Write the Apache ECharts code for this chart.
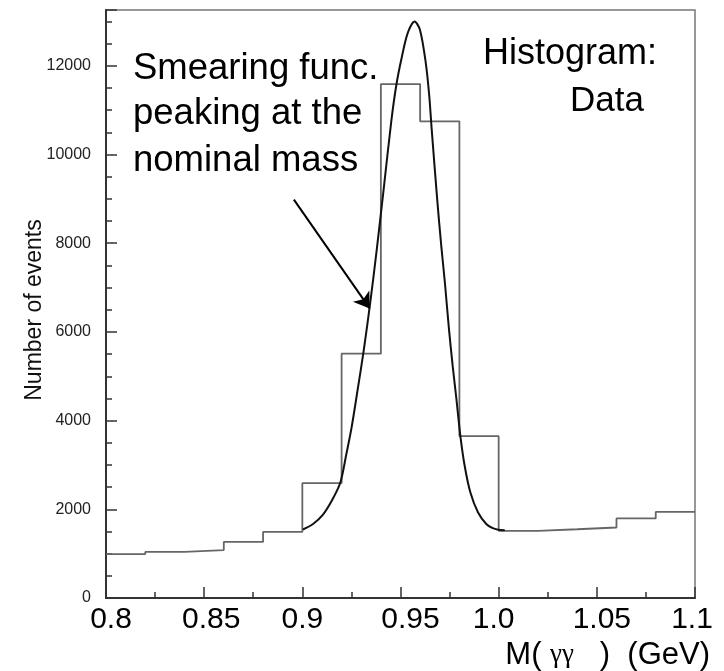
<!DOCTYPE html>
<html>
<head>
<meta charset="utf-8">
<script src="https://cdn.jsdelivr.net/npm/echarts@6/dist/echarts.min.js"></script>
<style>
html,body{margin:0;padding:0;background:#fff;}
#chart{width:724px;height:671px;}
</style>
</head>
<body>
<div id="chart"></div>
<script>
// Histogram bins (left edges, width 0.02 GeV) and counts
var binEdges = [0.80, 0.82, 0.84, 0.86, 0.88, 0.90, 0.92, 0.94, 0.96, 0.98, 1.00, 1.02, 1.04, 1.06, 1.08];
var binEnd = 1.10;
var counts = [990, 1040, 1080, 1265, 1490, 2590, 5510, 11590, 10750, 3650, 1515, 1550, 1590, 1795, 1940];

// Smearing function
var curveX = [0.9003, 0.9053, 0.9103, 0.9154, 0.9194, 0.9224, 0.9251, 0.9282, 0.9312, 0.9346, 0.9379, 0.9414, 0.9453, 0.9479, 0.9506, 0.9537, 0.9572,
              0.9599, 0.9628, 0.9646, 0.9659, 0.9687, 0.9707, 0.9726, 0.9747, 0.9766, 0.9785, 0.9805, 0.9827, 0.9856, 0.9895, 0.9938, 0.9970, 0.9997, 1.0031];
var curveY = [1545, 1664, 1867, 2227, 2610, 3241, 3849, 4705, 5561, 6664, 7858, 9209, 10748, 11574, 12182, 12745, 13000,
              12813, 12092, 11349, 10561, 8984, 7971, 7115, 6056, 5223, 4480, 3653, 2977, 2378, 1928, 1664, 1574, 1541, 1529];

// Axis settings
var xMin = 0.8, xMax = 1.1, xStep = 0.05;
var yMin = 0, yMax = 13260, yMajor = 2000, yMinor = 500;

// Annotation arrow (data coordinates)
var arrowStart = [0.8957, 8984];
var arrowEnd = [0.9343, 6530];

var histData = binEdges.map(function (x, i) { return [x, counts[i]]; });
histData.push([binEnd, counts[counts.length - 1]]);
var curveData = curveX.map(function (x, i) { return [x, curveY[i]]; });

var FONT = '"Liberation Sans", Arial, Helvetica, sans-serif';

// small horizontal nudges of the x tick labels as placed in the original figure
var xLabelNudge = [5, 7, 0, 10, -5, 5, -3];
var xRich = {};
xLabelNudge.forEach(function (o, i) {
  xRich['s' + i] = {fontSize: 30, fontFamily: FONT, color: '#000', padding: [0, Math.max(0, -2 * o), 0, Math.max(0, 2 * o)]};
});

var chart = echarts.init(document.getElementById('chart'), null, {renderer: 'canvas'});
chart.setOption({
  animation: false,
  backgroundColor: '#fff',
  grid: {left: 106, right: 29, top: 10, bottom: 73, show: true, borderColor: '#777', borderWidth: 1.5, backgroundColor: 'transparent'},
  xAxis: {
    type: 'value', min: xMin, max: xMax, interval: xStep,
    axisLine: {lineStyle: {color: '#333', width: 2}},
    axisTick: {inside: true, length: 11, lineStyle: {color: '#333', width: 1.5}},
    minorTick: {show: true, splitNumber: 2, length: 6, lineStyle: {color: '#333', width: 1.5}},
    splitLine: {show: false},
    axisLabel: {
      margin: 7, fontSize: 30, fontFamily: FONT, color: '#000', rich: xRich,
      formatter: function (v) {
        var s = String(+v.toFixed(2)); if (s.indexOf('.') < 0) s += '.0';
        var i = Math.round((v - xMin) / xStep);
        return '{s' + i + '|' + s + '}';
      }
    },
    name: '{a|M( }{g|γγ}{a|   )  (GeV)}',
    nameLocation: 'end', nameGap: 15,
    nameTextStyle: {
      align: 'right', verticalAlign: 'middle', padding: [114, 0, 0, 0],
      rich: {
        a: {fontSize: 31, fontFamily: FONT, color: '#000'},
        g: {fontSize: 27, fontFamily: '"Liberation Serif", "Times New Roman", serif', color: '#000'}
      }
    }
  },
  yAxis: [{
    type: 'value', min: yMin, max: yMax, interval: yMajor,
    axisLine: {show: true, lineStyle: {color: '#333', width: 2}},
    axisTick: {inside: true, length: 11, lineStyle: {color: '#333', width: 1.5}},
    splitLine: {show: false},
    axisLabel: {
      margin: 15, fontSize: 16, fontFamily: FONT, color: '#222',
      formatter: function (v) { return (v % yMajor === 0) ? String(v) : ''; }
    },
    name: 'Number of events', nameLocation: 'middle', nameGap: 60, nameRotate: 90, nameMoveOverlap: false,
    nameTextStyle: {fontSize: 23, fontFamily: FONT, color: '#111', padding: [0, 12, 0, 0]}
  }, {
    type: 'value', min: yMin, max: yMax, interval: yMinor, position: 'left', offset: 0,
    axisLine: {show: false},
    axisTick: {show: true, inside: true, length: 6, lineStyle: {color: '#333', width: 1.5}},
    axisLabel: {show: false},
    splitLine: {show: false}
  }],
  series: [{
    name: 'Data', type: 'line', step: 'end', data: histData, yAxisIndex: 0,
    showSymbol: false, lineStyle: {color: '#666', width: 1.8}
  }, {
    name: 'Smearing', type: 'line', data: curveData, yAxisIndex: 0,
    smooth: 0.3, showSymbol: false, color: '#000',
    lineStyle: {color: '#111', width: 2},
    markLine: {
      silent: true, symbol: ['none', 'arrow'], symbolSize: 15, symbolOffset: 0,
      label: {show: false},
      itemStyle: {color: '#000'},
      lineStyle: {color: '#000', width: 2, type: 'solid'},
      emphasis: {disabled: true},
      data: [[{coord: arrowStart}, {coord: arrowEnd}]]
    }
  }],
  graphic: [
    {type: 'text', left: 133, top: 50, style: {text: 'Smearing func.', font: '36.5px ' + FONT, fill: '#000'}},
    {type: 'text', left: 133, top: 95, style: {text: 'peaking at the', font: '36.5px ' + FONT, fill: '#000'}},
    {type: 'text', left: 133, top: 142, style: {text: 'nominal mass', font: '36.5px ' + FONT, fill: '#000'}},
    {type: 'text', left: 483, top: 36, style: {text: 'Histogram:', font: '36px ' + FONT, fill: '#000'}},
    {type: 'text', left: 570, top: 84, style: {text: 'Data', font: '35px ' + FONT, fill: '#000'}}
  ]
});
</script>
</body>
</html>
